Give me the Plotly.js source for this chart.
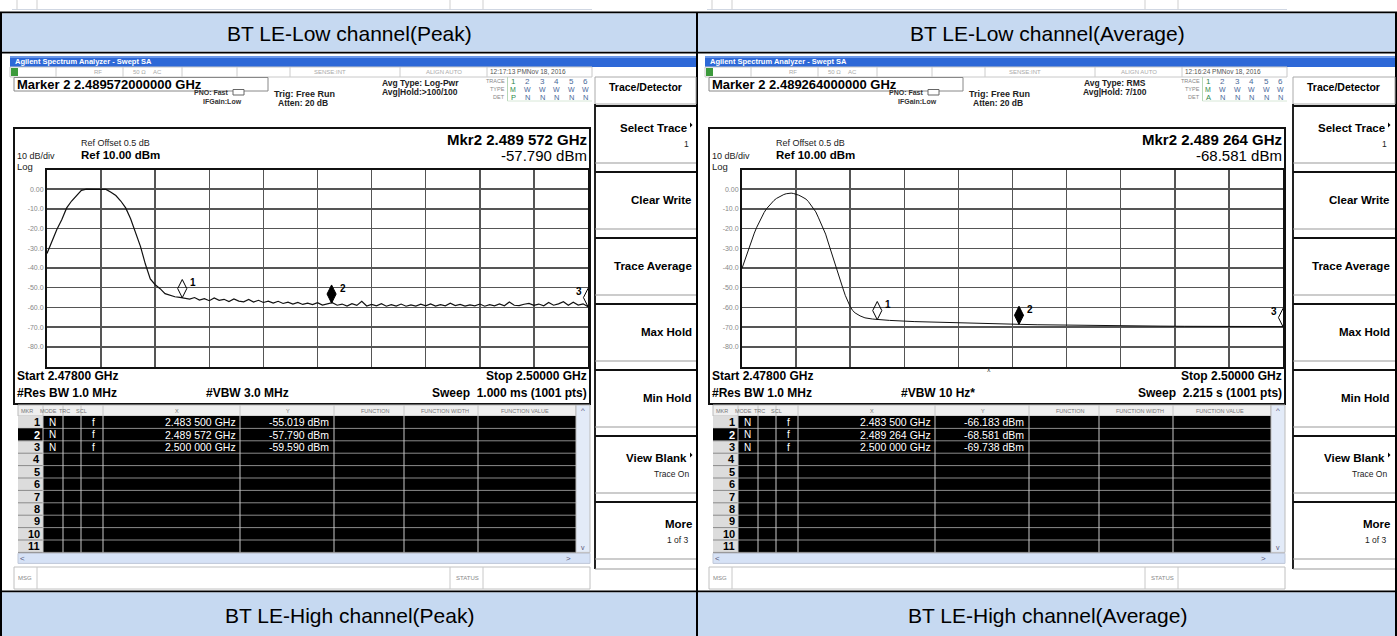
<!DOCTYPE html>
<html><head><meta charset="utf-8">
<script src="https://cdn.plot.ly/plotly-3.0.1.min.js"></script>
<style>html,body{margin:0;padding:0;background:#fff;overflow:hidden}#chart{width:1397px;height:636px}</style>
</head><body><div id="chart"></div>
<script>
// ---------------- DATA ----------------
const headerTopLabels = ['BT LE-Low channel(Peak)', 'BT LE-Low channel(Average)'];
const headerBottomLabels = ['BT LE-High channel(Peak)', 'BT LE-High channel(Average)'];

const yTickVals = [0, -10, -20, -30, -40, -50, -60, -70, -80];
const yTickText = ['0.00', '-10.0', '-20.0', '-30.0', '-40.0', '-50.0', '-60.0', '-70.0', '-80.0'];

// Peak-detector sweep (GHz, dBm)
const peakFreqGHz = [
 2.4780,2.4782,2.4784,2.4786,2.4788,2.4790,2.4792,2.4794,2.4796,2.4798,
 2.4800,2.4802,2.4804,2.4806,2.4808,2.4810,2.4812,2.4814,2.4816,2.4818,
 2.4820,2.4822,2.4824,2.4826,2.4828,2.4830,2.4832,2.4834,2.4836,2.4838,
 2.4840,2.4842,2.4844,2.4846,2.4848,2.4850,2.4852,2.4854,2.4856,2.4858,
 2.4860,2.4862,2.4864,2.4866,2.4868,2.4870,2.4872,2.4874,2.4876,2.4878,
 2.4880,2.4882,2.4884,2.4886,2.4888,2.4890,2.4892,2.4894,2.4896,2.4898,
 2.4900,2.4902,2.4904,2.4906,2.4908,2.4910,2.4912,2.4914,2.4916,2.4918,
 2.4920,2.4922,2.4924,2.4926,2.4928,2.4930,2.4932,2.4934,2.4936,2.4938,
 2.4940,2.4942,2.4944,2.4946,2.4948,2.4950,2.4952,2.4954,2.4956,2.4958,
 2.4960,2.4962,2.4964,2.4966,2.4968,2.4970,2.4972,2.4974,2.4976,2.4978,
 2.4980,2.4982,2.4984,2.4986,2.4988,2.4990,2.4992,2.4994,2.4996,2.4998,
 2.5000];
const peakLevelDbm = [
 -32.6,-26.5,-20.5,-15.5,-9.5,-6.0,-3.3,-0.6,0.0,0.0,
 0.0,0.0,-0.1,-1.5,-3.2,-6.0,-9.5,-15.0,-21.5,-29.0,
 -38.0,-45.5,-48.5,-50.5,-53.0,-53.8,-54.6,-54.9,-55.3,-55.8,
 -55.0,-56.3,-55.6,-56.6,-55.2,-56.4,-55.9,-57.0,-55.7,-56.8,
 -57.2,-56.0,-57.3,-56.4,-57.5,-56.8,-57.8,-56.9,-58.0,-57.3,
 -58.3,-57.5,-58.5,-57.8,-58.6,-57.6,-58.8,-58.0,-57.6,-58.9,
 -58.3,-59.3,-58.1,-59.0,-56.9,-59.3,-58.5,-59.2,-58.1,-59.4,
 -58.6,-59.3,-58.3,-59.4,-58.7,-59.3,-58.4,-59.2,-58.2,-59.3,
 -58.6,-59.2,-57.9,-59.1,-58.5,-59.3,-58.7,-59.2,-58.3,-59.4,
 -58.6,-59.2,-58.2,-59.2,-57.3,-58.9,-59.1,-58.4,-58.0,-59.0,
 -58.3,-59.2,-57.5,-58.9,-58.2,-57.1,-58.9,-57.4,-58.8,-58.2,
 -59.6];

// RMS-average sweep (GHz, dBm)
const avgFreqGHz = [
 2.4780,2.4781,2.4782,2.4783,2.4784,2.4785,2.4786,2.4787,2.4788,2.4789,
 2.4790,2.4791,2.4792,2.4793,2.4794,2.4795,2.4796,2.4797,2.4798,2.4799,
 2.4800,2.4801,2.4802,2.4803,2.4804,2.4805,2.4806,2.4807,2.4808,2.4809,
 2.4810,2.4811,2.4812,2.4813,2.4814,2.4815,2.4816,2.4817,2.4818,2.4819,
 2.4820,2.4821,2.4822,2.4823,2.4824,2.4825,2.4826,2.4828,2.4830,2.4833,
 2.4835,2.4840,2.4850,2.4860,2.4870,2.4880,2.4893,2.4900,2.4910,2.4920,
 2.4930,2.4940,2.4950,2.4960,2.4970,2.4980,2.4990,2.5000];
const avgLevelDbm = [
 -40.2,-36.4,-32.7,-29.1,-25.6,-22.3,-19.3,-16.5,-14.0,-11.8,
 -9.9,-8.3,-6.9,-5.7,-4.7,-3.9,-3.2,-2.7,-2.3,-2.1,
 -2.0,-2.2,-2.5,-3.0,-3.6,-4.3,-5.0,-6.3,-7.9,-9.6,
 -11.5,-14.2,-16.9,-19.6,-22.8,-26.8,-30.9,-35.1,-39.2,-43.0,
 -46.5,-50.2,-53.9,-57.1,-59.6,-61.6,-62.8,-64.3,-65.3,-65.9,
 -66.2,-66.6,-67.2,-67.6,-68.0,-68.3,-68.6,-68.8,-69.0,-69.2,
 -69.3,-69.4,-69.5,-69.6,-69.6,-69.7,-69.7,-69.74];

// Marker readouts
const peakMarkerFreq = [2.4835, 2.489572, 2.5];
const peakMarkerLevel = [-55.019, -57.790, -59.590];
const avgMarkerFreq = [2.4835, 2.489264, 2.5];
const avgMarkerLevel = [-66.183, -68.581, -69.738];

// Per-screen instrument texts
const avgTypeText = ['Avg Type: Log-Pwr', 'Avg Type: RMS'];
const avgHoldText = ['Avg|Hold:>100/100', 'Avg|Hold: 7/100'];
const timeText = ['12:17:13 PMNov 18, 2016', '12:16:24 PMNov 18, 2016'];
const traceRow = ['1', '2', '3', '4', '5', '6'];
const typeRow = ['M', 'W', 'W', 'W', 'W', 'W'];
const detRows = [['P', 'N', 'N', 'N', 'N', 'N'], ['A', 'N', 'N', 'N', 'N', 'N']];
const vbwText = ['#VBW 3.0 MHz', '#VBW 10 Hz*'];
const sweepText = ['Sweep  1.000 ms (1001 pts)', 'Sweep  2.215 s (1001 pts)'];
const softLabels = ['Select Trace', 'Clear Write', 'Trace Average', 'Max Hold', 'Min Hold', 'View Blank', 'More'];
const softSub = ['1', '', '', '', '', 'Trace On', '1 of 3'];
const tableHead = ['MKR', 'MODE', 'TRC', 'SCL', 'X', 'Y', 'FUNCTION', 'FUNCTION WIDTH', 'FUNCTION VALUE'];

// ---------------- DRAWING ----------------
const W = 1397, H = 636;
const UI = 'Liberation Sans, Arial, sans-serif';
const HEAD = 'Liberation Sans Narrow, Arial Narrow, Liberation Sans, Arial, sans-serif';
const shapes = [], annos = [];
const px = x => x / W, py = y => 1 - y / H;
function rect(x0, y0, x1, y1, fill, lc, lw, layer) {
  shapes.push({type:'rect', xref:'paper', yref:'paper', x0:px(x0), x1:px(x1), y0:py(y1), y1:py(y0),
    fillcolor: fill || 'rgba(0,0,0,0)', line:{color: lc || 'rgba(0,0,0,0)', width: lw || 0}, layer: layer || 'below'});
}
function line(x0, y0, x1, y1, c, w, layer) {
  shapes.push({type:'line', xref:'paper', yref:'paper', x0:px(x0), x1:px(x1), y0:py(y0), y1:py(y1),
    line:{color:c, width:w}, layer: layer || 'below'});
}
function tri(x, y, s, c) {
  shapes.push({type:'path', xref:'paper', yref:'paper', layer:'above',
    path:`M${px(x)},${py(y - s)} L${px(x + s)},${py(y)} L${px(x)},${py(y + s)} Z`, fillcolor:c, line:{width:0}});
}
function txt(x, y, t, size, o) {
  o = o || {};
  annos.push({xref:'paper', yref:'paper', x:px(x), y:py(y), text:t, showarrow:false,
    xanchor:o.anchor || 'left', yanchor:'middle', borderpad:0,
    font:{family:o.family || UI, size:size, color:o.color || '#000', weight:o.bold ? 'bold' : 'normal'}});
}
const fmtGHz = f => { const s = f.toFixed(6); return s.slice(0, 5) + ' ' + s.slice(5) + ' GHz'; };

// table outline / headers
line(0, 12.5, W, 12.5, '#000', 2);
line(0, 52.5, W, 52.5, '#000', 2);
line(0, 591.5, W, 591.5, '#000', 2);
line(1, 12, 1, H, '#000', 2);
line(697, 12, 697, H, '#000', 2);
line(1396, 12, 1396, H, '#000', 2);
rect(2, 13.5, 696, 51.5, '#c6d9f1');
rect(698, 13.5, 1395, 51.5, '#c6d9f1');
rect(2, 592.5, 696, H, '#c6d9f1');
rect(698, 592.5, 1395, H, '#c6d9f1');
txt(349, 33, headerTopLabels[0], 21, {anchor:'center', family:HEAD});
txt(1047, 33, headerTopLabels[1], 21, {anchor:'center', family:HEAD});
txt(349, 615, headerBottomLabels[0], 21, {anchor:'center', family:HEAD});
txt(1047, 615, headerBottomLabels[1], 21, {anchor:'center', family:HEAD});

const screenOffset = [0, 695];
const mFreq = [peakMarkerFreq, avgMarkerFreq];
const mLev = [peakMarkerLevel, avgMarkerLevel];

function drawScreen(i) {
  const ox = screenOffset[i];
  const X = v => ox + v;
  const edge = i === 0 ? 696 : 1395;
  // remnant of previous screenshot at very top
  line(X(12), 9.5, X(592), 9.5, '#cfd6e2', 1);
  [17, 37, 450, 483].forEach(v => line(X(v), 0, X(v), 9.5, '#cfcfcf', 1));
  // title bar
  rect(X(10), 56, edge, 67, '#2d68d7');
  rect(X(10), 56, edge, 58, '#6b98e8');
  txt(X(14), 61.8, 'Agilent Spectrum Analyzer - Swept SA', 7.5, {color:'#fff', bold:true});
  // status bar
  rect(X(10), 67, X(592), 77, '#fff', '#c8c8c8', 1);
  rect(X(11), 68, X(18), 76, '#3c9a3c');
  [56, 123, 182, 237, 290, 400, 487].forEach(v => line(X(v), 67, X(v), 77, '#cccccc', 1));
  txt(X(93), 72, 'RF', 6, {color:'#aaa'});
  txt(X(132), 72, '50 Ω', 6, {color:'#aaa'});
  txt(X(152), 72, 'AC', 6, {color:'#aaa'});
  txt(X(313), 72, 'SENSE:INT', 6, {color:'#aaa'});
  txt(X(425), 72, 'ALIGN AUTO', 6, {color:'#aaa'});
  txt(X(489), 72, timeText[i], 6.5, {color:'#555'});
  // marker entry box
  rect(X(14), 77.5, X(268), 91, '#fff', '#888', 1);
  txt(X(16), 84.5, 'Marker 2 ' + mFreq[i][1].toFixed(12) + ' GHz', 13, {bold:true});
  // acquisition info
  txt(X(230), 92.5, 'PNO: Fast', 7, {bold:true, anchor:'right', color:'#333'});
  rect(X(233), 89.5, X(244), 95, '#fff', '#666', 1);
  txt(X(243), 101, 'IFGain:Low', 7, {bold:true, anchor:'right', color:'#333'});
  txt(X(273), 94, 'Trig: Free Run', 9, {bold:true, color:'#222'});
  txt(X(277), 102.5, 'Atten: 20 dB', 8.5, {bold:true, color:'#222'});
  txt(X(420), 82.5, avgTypeText[i], 8.5, {bold:true, anchor:'center', color:'#222'});
  txt(X(420), 91.5, avgHoldText[i], 8.5, {bold:true, anchor:'center', color:'#222'});
  txt(X(506), 81, 'TRACE', 5.5, {anchor:'right', color:'#888'});
  txt(X(506), 89, 'TYPE', 5.5, {anchor:'right', color:'#888'});
  txt(X(506), 97, 'DET', 5.5, {anchor:'right', color:'#888'});
  line(X(507.5), 77, X(507.5), 101, '#b8d8b8', 1);
  line(X(507.5), 101, X(592), 101, '#d8e8d8', 1);
  for (let k = 0; k < 6; k++) {
    const cx = X(513 + k * 14.5);
    const col = k === 0 ? '#2f8a4a' : '#4a6a9a';
    txt(cx, 81, traceRow[k], 8, {anchor:'center', color:col});
    txt(cx, 89, typeRow[k], 7, {anchor:'center', color:col});
    txt(cx, 97, detRows[i][k], 7.5, {anchor:'center', color:col});
  }
  // softkeys
  const sk = ox + (i === 0 ? 0 : 3);
  rect(sk + 595, 77, edge, 104, '#fff', '#aaa', 1);
  txt(sk + 645, 86.5, 'Trace/Detector', 10.5, {bold:true, anchor:'center'});
  line(sk + 595, 104, sk + 595, 569, '#222', 2);
  const tops = [106, 172, 238, 304, 370, 436, 502];
  tops.forEach((t, k) => {
    line(sk + 595, t, edge, t, '#111', 2);
    line(sk + 595, t + 57, edge, t + 57, '#999', 1);
    const hasSub = softSub[k] !== '';
    const arrow = (k === 0 || k === 5);
    txt(arrow ? sk + 688 : sk + 693, hasSub ? t + 22 : t + 28, softLabels[k], 11.5, {bold:true, anchor:'right'});
    if (hasSub) txt(sk + 690, t + 38, softSub[k], 8.5, {anchor:'right', color:'#222'});
    if (arrow) tri(sk + 690, t + 19, 2.5, '#000');
  });
  line(sk + 595, 569, edge, 569, '#999', 1);
  // main display frame
  rect(X(14), 128, X(590), 404, 'rgba(0,0,0,0)', '#111', 2);
  txt(X(80), 143, 'Ref Offset 0.5 dB', 9, {color:'#222'});
  txt(X(80), 154.5, 'Ref 10.00 dBm', 11.5, {bold:true});
  txt(X(16), 156, '10 dB/div', 9, {color:'#222'});
  txt(X(16), 166.5, 'Log', 9.5, {color:'#222'});
  txt(X(588), 139, 'Mkr2 ' + fmtGHz(mFreq[i][1]), 15, {bold:true, anchor:'right'});
  txt(X(588), 156, mLev[i][1].toFixed(3) + ' dBm', 15, {anchor:'right'});
  txt(X(16), 376, 'Start 2.47800 GHz', 12, {bold:true});
  txt(X(16), 393, '#Res BW 1.0 MHz', 12, {bold:true});
  txt(X(205), 393, vbwText[i], 12, {bold:true});
  txt(X(588), 376, 'Stop 2.50000 GHz', 12, {bold:true, anchor:'right'});
  txt(X(588), 393, sweepText[i], 12, {bold:true, anchor:'right'});
  if (i === 1) txt(X(294), 369, 'x', 7, {anchor:'center', color:'#444'});
  // marker table
  const hdrT = 405, hdrB = 416, rowH = 12.4, tL = 18, tR = 576;
  const cols = [43, 63, 81, 103, 240, 334, 404, 478];
  rect(X(tL), hdrT, X(tR), hdrB, '#efefef', '#bbb', 1);
  const headPos = [20, 39, 58, 75, 174, 285, 360, 420, 500];
  tableHead.forEach((h, k) => txt(X(headPos[k]), 410.5, h, 5.5, {color:'#777'}));
  const tBot = hdrB + 11 * rowH;
  rect(X(43), hdrB, X(tR), tBot, '#000');
  rect(X(tL), hdrB, X(43), tBot, '#dcdcdc');
  for (let r = 0; r < 11; r++) {
    const y0 = hdrB + r * rowH;
    if (r === 1) rect(X(tL), y0, X(43), y0 + rowH, '#000');
    line(X(tL), y0 + rowH, X(tR), y0 + rowH, '#8a8a8a', 1);
    txt(X(41), y0 + rowH / 2, String(r + 1), 11, {bold:true, anchor:'right', color: r === 1 ? '#fff' : '#000'});
  }
  cols.forEach(c => line(X(c), hdrT, X(c), tBot, '#c8c8c8', 1));
  for (let r = 0; r < 3; r++) {
    const yc = hdrB + r * rowH + rowH / 2;
    txt(X(52), yc, 'N', 10, {anchor:'center', color:'#fff'});
    txt(X(93), yc, 'f', 10, {anchor:'center', color:'#fff'});
    txt(X(237), yc, fmtGHz(mFreq[i][r]), 10.5, {anchor:'right', color:'#fff'});
    txt(X(330), yc, mLev[i][r].toFixed(3) + ' dBm', 10.5, {anchor:'right', color:'#fff'});
  }
  // scrollbars
  rect(X(tR), hdrT, X(590), tBot, '#e3ebf8', '#bbb', 1);
  txt(X(583), 410, '^', 8, {anchor:'center', color:'#557'});
  txt(X(583), tBot - 5, 'v', 7, {anchor:'center', color:'#557'});
  rect(X(tL), tBot + 1, X(590), tBot + 11, '#d6e2f6', '#c0c8d8', 1);
  txt(X(22), tBot + 6, '<', 8, {anchor:'center', color:'#557'});
  txt(X(568), tBot + 6, '>', 8, {anchor:'center', color:'#557'});
  // message bar
  rect(X(14), 567, X(590), 589, '#fff', '#c0c0c0', 1);
  [37, 450, 483].forEach(v => line(X(v), 567, X(v), 589, '#c8c8c8', 1));
  txt(X(17), 578, 'MSG', 6, {color:'#888'});
  txt(X(455), 578, 'STATUS', 6, {color:'#888'});
}
drawScreen(0);
drawScreen(1);

// ---------------- PLOTS ----------------
const gratL = 47, gratR = 588, gratT = 169.5, gratB = 366.5;
const dbPerPx = 100 / (gratB - gratT);
const diamondLift = 9 * dbPerPx;  // diamond sits above its trace point
const traces = [];
const sweeps = [[peakFreqGHz, peakLevelDbm], [avgFreqGHz, avgLevelDbm]];
const layout = {
  width: W, height: H, margin: {l:0, r:0, t:0, b:0}, autosize: false, showlegend: false,
  paper_bgcolor: '#ffffff', plot_bgcolor: 'rgba(0,0,0,0)',
  shapes: shapes, annotations: annos, font: {family: UI}
};
[0, 1].forEach(i => {
  const ox = screenOffset[i];
  const xa = i === 0 ? 'x' : 'x2', ya = i === 0 ? 'y' : 'y2';
  const xk = i === 0 ? 'xaxis' : 'xaxis2', yk = i === 0 ? 'yaxis' : 'yaxis2';
  layout[xk] = {domain:[px(ox + gratL), px(ox + gratR)], range:[2.478, 2.5], anchor: ya,
    tick0: 2.478, dtick: 0.0022, showgrid: true, gridcolor: '#555', gridwidth: 1.5,
    showticklabels: false, ticks: '', zeroline: false, showline: true, mirror: true,
    linecolor: '#111', linewidth: 2, fixedrange: true};
  layout[yk] = {domain:[py(gratB), py(gratT)], range:[-90, 10], anchor: xa,
    tickmode: 'array', tickvals: yTickVals, ticktext: yTickText, tickfont: {size: 7, color: '#888', family: UI},
    showgrid: true, gridcolor: '#555', gridwidth: 1.5, ticks: '', zeroline: false,
    showline: true, mirror: true, linecolor: '#111', linewidth: 2, fixedrange: true};
  traces.push({type:'scatter', mode:'lines', x: sweeps[i][0], y: sweeps[i][1], xaxis: xa, yaxis: ya,
    line: {color:'#111', width: i === 0 ? 1.2 : 1.0}, hoverinfo: 'skip'});
  const lifted = mLev[i].map(v => v + diamondLift);
  traces.push({type:'scatter', mode:'markers', x: mFreq[i], y: lifted, xaxis: xa, yaxis: ya,
    marker: {symbol: ['diamond-tall-open', 'diamond-tall', 'diamond-tall-open'], size: 13,
      color: '#000', line: {color: '#000', width: 1}}, hoverinfo: 'skip'});
  mFreq[i].forEach((f, k) => {
    annos.push({xref: xa, yref: ya, x: f, y: mLev[i][k], text: String(k + 1), showarrow: false,
      xanchor: k === 2 ? 'right' : 'left', yanchor: 'middle', xshift: k === 2 ? -4 : 6, yshift: 15,
      font: {family: UI, size: 10, color: '#000', weight: 'bold'}});
  });
});
Plotly.newPlot('chart', traces, layout, {staticPlot: true, displayModeBar: false});
</script></body></html>
